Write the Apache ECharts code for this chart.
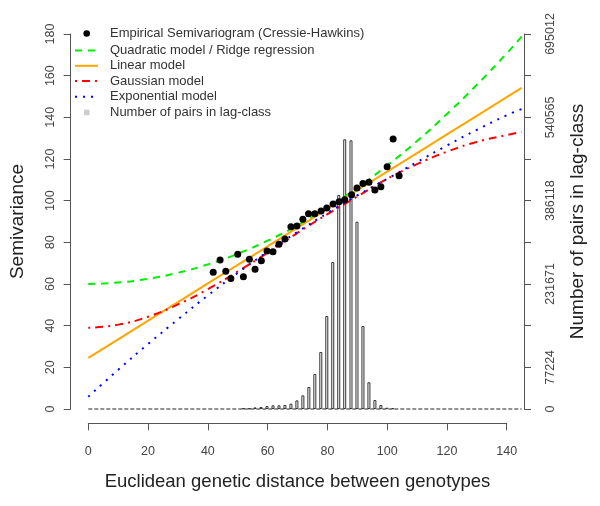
<!DOCTYPE html>
<html><head><meta charset="utf-8">
<script src="https://cdn.jsdelivr.net/npm/echarts@6/dist/echarts.min.js"></script>
<style>html,body{margin:0;padding:0;background:#fff}#c{width:600px;height:506px}</style>
</head><body><div id="c"></div>
<script>
// Empirical semivariogram (Cressie-Hawkins)
const lagX = [41.8,44.1,46.0,47.7,50.0,51.9,53.9,55.8,57.9,59.8,61.8,63.8,65.8,67.8,69.8,71.8,73.7,75.8,77.9,79.8,81.9,83.9,85.8,88.1,89.9,91.9,93.9,95.9,97.9,100.0,102.0,104.0];
const semivariance = [65.6,71.5,66.1,62.7,74.3,63.5,71.9,67.1,71.2,75.8,75.5,79.1,81.6,87.5,87.8,91.1,93.7,93.7,95.0,96.5,98.4,99.5,100.5,102.9,106.1,108.3,108.8,105.1,106.7,116.3,129.6,112.0];
// Number of pairs in lag-class
const barX = [51.9,53.9,55.8,57.8,59.8,61.8,63.8,65.8,67.8,69.8,71.8,73.8,75.8,77.8,79.8,81.8,83.8,85.8,87.9,89.9,91.9,93.9,95.9,97.9,99.9,101.9];
const pairCounts = [1200,1200,3000,3700,5500,6800,6800,7400,9900,16000,25300,40800,64900,105600,172400,272400,396600,499900,498000,347100,153800,49500,16700,7400,2400,1500];
// Model curves
const curveX = [0,10,20,30,40,50,60,70,80,90,100,110,120,130,140,145];
const quadratic = [60,60.7,62.5,65.4,69.4,74.5,80.8,88.1,96.6,106.2,116.9,128.6,141.6,155.6,170.7,178.7];
const linear = [24.5,33.4,42.4,51.3,60.3,69.2,78.1,87.1,96.0,105.0,113.9,122.8,131.8,140.7,149.7,154.1];
const gaussian = [39,40.5,44.3,50.2,57.5,66,75,84.5,93.5,102,110.5,117.5,123.5,128.2,131.5,133];
const exponential = [5.9,18.8,31.2,43,54.5,65.3,75.5,85,94,102.5,110.5,118.5,126.5,134,141,144];
const baselineX = [0,145];
const baselineY = [0,0];
// Axis ticks
const xTicks = {min:0, max:140, step:20};
const xPlotMax = 145.6;
const yTicks = {min:0, max:180, step:20};
const pairAxisMax = 695012;
const pairTickLabels = ['0','77224','231671','386118','540565','695012'];
const legendNames = ['Empirical Semivariogram (Cressie-Hawkins)','Quadratic model / Ridge regression','Linear model','Gaussian model','Exponential model','Number of pairs in lag-class'];

const FF = '"Liberation Sans", Arial, sans-serif';
const zip = (a,b) => a.map((v,i)=>[v,b[i]]);
const axisCol = '#555';

const chart = echarts.init(document.getElementById('c'), null, {renderer:'canvas'});
const legendRowsY = [33.5, 50.5, 65.8, 81, 96.8, 112.5];
const lx1 = 75, lx2 = 98, ltx = 110;
const gfx = [];
gfx.push({type:'circle', shape:{cx:86.7, cy:legendRowsY[0], r:3.3}, style:{fill:'#000'}});
const legLines = [
  {y:legendRowsY[1], stroke:'#00ee00', dash:[7,6]},
  {y:legendRowsY[2], stroke:'#ffa500', dash:null},
  {y:legendRowsY[3], stroke:'#ff0000', dash:[2,5,8,5]},
  {y:legendRowsY[4], stroke:'#0000ff', dash:[2,6]}
];
legLines.forEach(l => gfx.push({type:'line', shape:{x1:lx1, y1:l.y, x2:lx2, y2:l.y}, style:{stroke:l.stroke, lineWidth:2, lineDash:l.dash}}));
gfx.push({type:'rect', shape:{x:84, y:legendRowsY[5]-2.8, width:5.5, height:5.5}, style:{fill:'#cccccc'}});
legendNames.forEach((t,i) => gfx.push({type:'text', x:ltx, y:legendRowsY[i], style:{text:t, font:'13px '+FF, fill:'#333', verticalAlign:'middle', align:'left'}}));

const gridLeft = 88.3, gridRight0 = 600-506.7, pxPerUnit = (506.7-88.3)/140;
const gridRight1 = 600 - (gridLeft + pxPerUnit*xPlotMax);

const option = {
  animation:false,
  backgroundColor:'#fff',
  grid:[
    {left:gridLeft, right:gridRight0, top:34, bottom:97, containLabel:false},
    {left:gridLeft, right:gridRight1, top:34, bottom:97, containLabel:false}
  ],
  xAxis:[
    {type:'value', gridIndex:0, min:xTicks.min, max:xTicks.max, interval:xTicks.step, offset:14.3,
     splitLine:{show:false},
     axisLine:{show:true, onZero:false, lineStyle:{color:axisCol, width:1}},
     axisTick:{show:true, length:7, lineStyle:{color:axisCol}},
     axisLabel:{fontSize:12.5, color:'#444', margin:22, fontFamily:FF, showMinLabel:true, showMaxLabel:true},
     name:'Euclidean genetic distance between genotypes', nameLocation:'middle', nameGap:49,
     nameTextStyle:{fontSize:18.5, color:'#222', fontFamily:FF}},
    {type:'value', gridIndex:1, min:0, max:xPlotMax, show:false}
  ],
  yAxis:[
    {type:'value', gridIndex:0, position:'left', min:yTicks.min, max:yTicks.max, interval:yTicks.step, offset:17.6,
     splitLine:{show:false},
     axisLine:{show:true, onZero:false, lineStyle:{color:axisCol}},
     axisTick:{show:true, length:7, lineStyle:{color:axisCol}},
     axisLabel:{rotate:90, fontSize:12.5, color:'#444', margin:14, fontFamily:FF, showMinLabel:true, showMaxLabel:true},
     name:'Semivariance', nameLocation:'middle', nameGap:43,
     nameTextStyle:{fontSize:19, color:'#222', fontFamily:FF}},
    {type:'value', gridIndex:0, position:'right', min:0, max:pairAxisMax, interval:pairAxisMax/9, offset:17.3,
     splitLine:{show:false},
     axisLine:{show:true, onZero:false, lineStyle:{color:axisCol}},
     axisTick:{show:true, length:7, lineStyle:{color:axisCol}},
     axisLabel:{rotate:90, fontSize:12.5, color:'#444', margin:20, fontFamily:FF, showMinLabel:true, showMaxLabel:true,
       formatter: v => { const s = String(Math.round(v)); return pairTickLabels.includes(s) ? s : ''; }},
     name:'Number of pairs in lag-class', nameLocation:'middle', nameGap:44,
     nameTextStyle:{fontSize:19, color:'#222', fontFamily:FF}},
    {type:'value', gridIndex:1, min:yTicks.min, max:yTicks.max, show:false}
  ],
  graphic: gfx,
  series:[
    {name:legendNames[5], type:'bar', xAxisIndex:0, yAxisIndex:1, data:zip(barX,pairCounts), barWidth:3,
     itemStyle:{color:'#ffffff', borderColor:'#333', borderWidth:1}},
    {name:'baseline', type:'line', xAxisIndex:1, yAxisIndex:2, data:zip(baselineX,baselineY), symbol:'none', clip:false,
     lineStyle:{color:'#222', width:1, type:[4,2]}},
    {name:legendNames[1], type:'line', xAxisIndex:1, yAxisIndex:2, data:zip(curveX,quadratic), symbol:'none', smooth:true, clip:false,
     lineStyle:{color:'#00ee00', width:2, type:[7,6]}},
    {name:legendNames[2], type:'line', xAxisIndex:1, yAxisIndex:2, data:zip(curveX,linear), symbol:'none', clip:false,
     lineStyle:{color:'#ffa500', width:2}},
    {name:legendNames[3], type:'line', xAxisIndex:1, yAxisIndex:2, data:zip(curveX,gaussian), symbol:'none', smooth:true, clip:false,
     lineStyle:{color:'#ff0000', width:2, type:[2,5,8,5]}},
    {name:legendNames[4], type:'line', xAxisIndex:1, yAxisIndex:2, data:zip(curveX,exponential), symbol:'none', smooth:true, clip:false,
     lineStyle:{color:'#0000ff', width:2, type:[2,6]}},
    {name:legendNames[0], type:'scatter', xAxisIndex:0, yAxisIndex:0, data:zip(lagX,semivariance), symbol:'circle', symbolSize:7,
     itemStyle:{color:'#000', opacity:1}, z:5}
  ]
};
chart.setOption(option);
</script></body></html>
